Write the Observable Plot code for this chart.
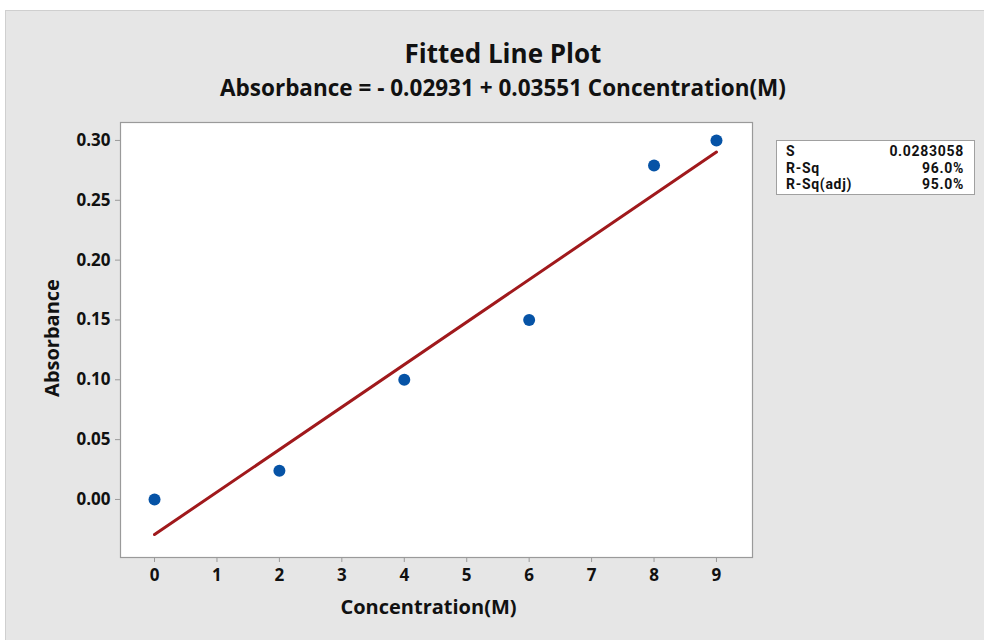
<!DOCTYPE html>
<html>
<head>
<meta charset="utf-8">
<script src="https://cdn.jsdelivr.net/npm/d3@7"></script>
<script src="https://cdn.jsdelivr.net/npm/@observablehq/plot@0.6"></script>
<style>
  html, body { margin: 0; padding: 0; background: #ffffff; }
  body { width: 984px; height: 640px; position: relative; overflow: hidden; font-family: "Open Sans", "Noto Sans", sans-serif; }
  #panel { position: absolute; left: 5px; top: 10px; width: 990px; height: 640px; background: #e6e6e6; border: 1px solid #cfcfcf; box-sizing: border-box; }
  #chart { position: absolute; left: 0; top: 0; }
  .title { position: absolute; left: 0; width: 1006px; text-align: center; font-weight: 700; color: #111; white-space: nowrap; }
  #t1 { top: 35px; font-size: 26px; line-height: 36px; }
  #t2 { top: 73px; font-size: 22.5px; line-height: 30px; }
  #legend { position: absolute; left: 776px; top: 140px; width: 199px; height: 55px; background: #fff; border: 1px solid #a0a0a0; box-sizing: border-box; font-family: Roboto, "Liberation Sans", sans-serif; font-size: 14px; font-weight: 700; color: #111; padding: 2px 10px 0 9px; line-height: 16.5px; letter-spacing: 0.7px; }
  #legend .row { display: flex; justify-content: space-between; height: 16.5px; }
</style>
</head>
<body>
<div id="panel"></div>
<div id="chart"></div>
<div class="title" id="t1">Fitted Line Plot</div>
<div class="title" id="t2">Absorbance = - 0.02931 + 0.03551 Concentration(M)</div>
<div id="legend"></div>
<script>
// Data
const concentration = [0, 2, 4, 6, 8, 9];
const absorbance = [0.000, 0.024, 0.100, 0.150, 0.279, 0.300];
const intercept = -0.02931;
const slope = 0.03551;
const xTicks = [0, 1, 2, 3, 4, 5, 6, 7, 8, 9];
const yTicks = [0.00, 0.05, 0.10, 0.15, 0.20, 0.25, 0.30];
const statLabels = ["S", "R-Sq", "R-Sq(adj)"];
const statValues = ["0.0283058", "96.0%", "95.0%"];

const points = concentration.map((c, i) => ({c, a: absorbance[i]}));
const xMin = d3.min(concentration), xMax = d3.max(concentration);
const fit = [xMin, xMax].map(c => ({c, a: intercept + slope * c}));

const plot = Plot.plot({
  width: 984,
  height: 640,
  marginLeft: 120,
  marginRight: 232,
  marginTop: 122,
  marginBottom: 83,
  style: { background: "transparent", fontFamily: "'Open Sans', 'Noto Sans', sans-serif", fontSize: "17px", fontWeight: 700, color: "#111" },
  x: { domain: [-0.545, 9.577], label: null },
  y: { domain: [-0.0485, 0.315], label: null },
  marks: [
    Plot.frame({ fill: "#ffffff", stroke: "#9a9a9a", strokeWidth: 1.2 }),
    Plot.axisX({ ticks: xTicks, tickFormat: d3.format("d"), stroke: "#9a9a9a", tickSize: 5, tickPadding: 6, fontSize: 17, fontWeight: 700, fill: "#111", label: null }),
    Plot.axisY({ ticks: yTicks, tickFormat: d3.format(".2f"), stroke: "#9a9a9a", tickSize: 5, tickPadding: 5, fontSize: 17, fontWeight: 700, fill: "#111", label: null }),
    Plot.line(fit, { x: "c", y: "a", stroke: "#a0191c", strokeWidth: 3 }),
    Plot.dot(points, { x: "c", y: "a", r: 6, fill: "#0653a6", stroke: "none" }),
    Plot.text(["Concentration(M)"], { frameAnchor: "bottom", dx: -8, dy: 56, text: d => d, fontSize: 20, fontWeight: 700, fill: "#111" }),
    Plot.text(["Absorbance"], { frameAnchor: "left", textAnchor: "middle", dx: -68, dy: -2, rotate: -90, text: d => d, fontSize: 20, fontWeight: 700, fill: "#111" })
  ]
});
document.getElementById("chart").appendChild(plot);

const legend = document.getElementById("legend");
statLabels.forEach((l, i) => {
  const row = document.createElement("div");
  row.className = "row";
  row.innerHTML = `<span>${l}</span><span>${statValues[i]}</span>`;
  legend.appendChild(row);
});
</script>
</body>
</html>
